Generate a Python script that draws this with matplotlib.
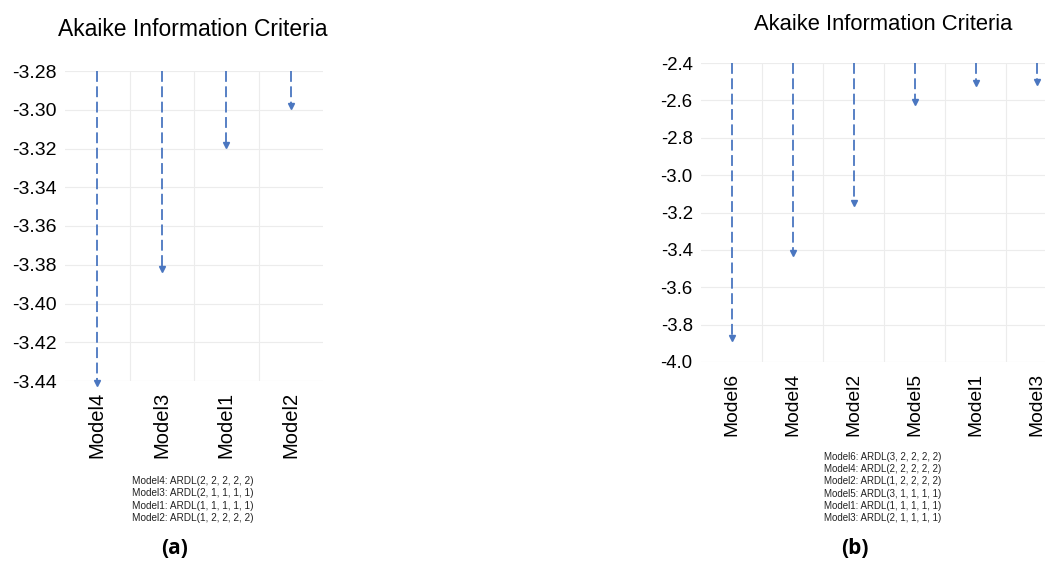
import matplotlib
matplotlib.use('Agg')
import matplotlib.pyplot as plt

# panel (a)
models_a = ['Model4', 'Model3', 'Model1', 'Model2']
aic_a = [-3.441, -3.382, -3.318, -3.298]
specs_a = ['ARDL(2, 2, 2, 2, 2)', 'ARDL(2, 1, 1, 1, 1)',
           'ARDL(1, 1, 1, 1, 1)', 'ARDL(1, 2, 2, 2, 2)']
yticks_a = [-3.28, -3.30, -3.32, -3.34, -3.36, -3.38, -3.40, -3.42, -3.44]

# panel (b)
models_b = ['Model6', 'Model4', 'Model2', 'Model5', 'Model1', 'Model3']
aic_b = [-3.87, -3.416, -3.149, -2.608, -2.507, -2.50]
specs_b = ['ARDL(3, 2, 2, 2, 2)', 'ARDL(2, 2, 2, 2, 2)', 'ARDL(1, 2, 2, 2, 2)',
           'ARDL(3, 1, 1, 1, 1)', 'ARDL(1, 1, 1, 1, 1)', 'ARDL(2, 1, 1, 1, 1)']
yticks_b = [-2.4, -2.6, -2.8, -3.0, -3.2, -3.4, -3.6, -3.8, -4.0]

plt.rcParams['font.family'] = ['Liberation Sans', 'DejaVu Sans']
blue = '#4a76c0'
W, H = 1045, 565
fig = plt.figure(figsize=(W / 100, H / 100), dpi=100)


def panel(rect, models, vals, ticks, fmt, fs):
    ax = fig.add_axes(rect)
    x = range(len(models))
    top = ticks[0]
    ax.vlines(x, [top] * len(vals), vals, colors=blue, linewidth=1.3,
              linestyles=(0, (6, 2.5)), zorder=3, clip_on=False)
    ax.plot(x, vals, linestyle='none', marker='v', markersize=4.5,
            color=blue, zorder=4, clip_on=False)
    ax.set_ylim(ticks[-1], ticks[0])
    ax.set_xlim(-0.5, len(models) - 0.5)
    ax.set_yticks(ticks)
    ax.set_yticklabels([fmt % t for t in ticks], fontsize=fs)
    ax.set_xticks(list(x))
    ax.set_xticklabels(models, rotation=90, fontsize=fs + 0.5)
    ax.set_xticks([i + 0.5 for i in range(len(models) - 1)], minor=True)
    ax.grid(True, axis='y', color='#ececec', linewidth=0.8)
    ax.grid(True, axis='x', which='minor', color='#ececec', linewidth=0.8)
    ax.grid(False, axis='x', which='major')
    ax.tick_params(length=0, which='both')
    ax.tick_params(axis='y', pad=6)
    ax.tick_params(axis='x', pad=8)
    for s in ax.spines.values():
        s.set_visible(False)
    return ax


panel([65 / W, 1 - 381 / H, 258 / W, 310 / H], models_a, aic_a, yticks_a, '%.2f', 14)
panel([701 / W, 1 - 362 / H, 366 / W, 299 / H], models_b, aic_b, yticks_b, '%.1f', 13.4)

fig.text(193 / W, 1 - 29 / H, 'Akaike Information Criteria', fontsize=16.5,
         ha='center', va='center')
fig.text(883 / W, 1 - 25 / H, 'Akaike Information Criteria', fontsize=15.8,
         ha='center', va='center')

txt_a = '\n'.join(m + ': ' + s for m, s in zip(models_a, specs_a))
txt_b = '\n'.join(m + ': ' + s for m, s in zip(models_b, specs_b))
fig.text(132 / W, 1 - 476 / H, txt_a, fontsize=7.2, va='top', ha='left',
         linespacing=1.3, color='#222222')
fig.text(824 / W, 1 - 452 / H, txt_b, fontsize=7, va='top', ha='left',
         linespacing=1.28, color='#222222')

fig.text(175 / W, 1 - 548 / H, '(a)', fontsize=15, fontweight='bold',
         family=['Open Sans', 'DejaVu Sans'], ha='center', va='center')
fig.text(855 / W, 1 - 548 / H, '(b)', fontsize=15, fontweight='bold',
         family=['Open Sans', 'DejaVu Sans'], ha='center', va='center')

fig.savefig('out.png', dpi=100)
